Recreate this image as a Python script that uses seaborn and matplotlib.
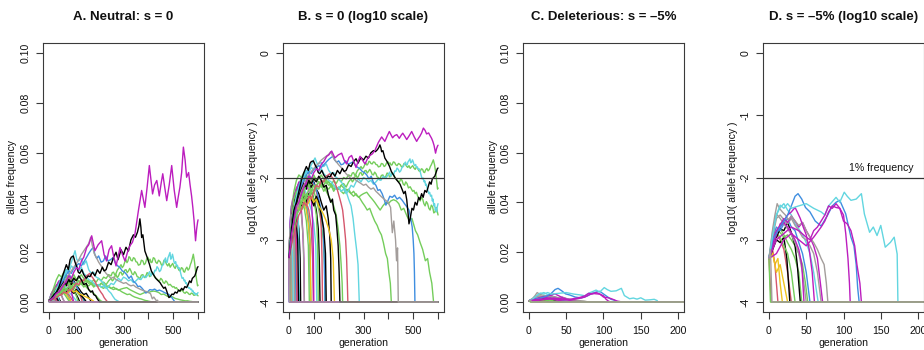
import numpy as np
import pandas as pd
import matplotlib
matplotlib.use("Agg")
import matplotlib.pyplot as plt
import seaborn as sns

sns.set_theme(style="white")
plt.rcParams["font.family"] = ["Liberation Sans", "DejaVu Sans"]

# ---------------- text ----------------
titles = ["A. Neutral: s = 0", "B. s = 0 (log10 scale)",
          "C. Deleterious: s = \u20135%", "D. s = \u20135% (log10 scale)"]
lin_yticks = [0.0, 0.02, 0.04, 0.06, 0.08, 0.10]
lin_ylabels = ["0.00", "0.02", "0.04", "0.06", "0.08", "0.10"]
log_yticks = [0, -1, -2, -3, -4]
log_ylabels = ["0", "-1", "-2", "-3", "-4"]
neu_xticks = [0, 100, 200, 300, 400, 500, 600]
neu_xlabels = ["0", "100", "", "300", "", "500", ""]
del_xticks = [0, 50, 100, 150, 200]
del_xlabels = ["0", "50", "100", "150", "200"]
ref_level = -2
ref_text = "1% frequency"

# ---------------- neutral trajectories (generation, allele frequency) ----------------
n_s01 = [(0, .0005), (3, .001), (6, .0005), (8, 0), (600, 0)]
n_s02 = [(0, .0005), (4, .0015), (8, .001), (12, .0005), (14, 0), (600, 0)]
n_s03 = [(0, .0005), (5, .0015), (10, .003), (15, .002), (20, .001), (23, 0), (600, 0)]
n_s04 = [(0, .0005), (5, .002), (10, .0035), (15, .003), (20, .002), (25, .001), (28, 0), (600, 0)]
n_s05 = [(0, .0005), (5, .0012), (10, .0008), (12, 0), (600, 0)]
n_s06 = [(0, .0005), (10, .002), (20, .004), (30, .003), (40, .0015), (45, .0005), (47, 0), (600, 0)]
n_s07 = [(0, .0005), (10, .003), (20, .005), (30, .004), (38, .002), (42, 0), (600, 0)]
n_s08 = [(0, .0005), (5, .001), (10, .0005), (13, 0), (600, 0)]
n_s09 = [(0, .0005), (5, .002), (10, .0035), (15, .0045), (20, .003), (25, .0025), (30, .001), (33, 0), (600, 0)]
n_s10 = [(0, .0005), (10, .0025), (20, .005), (30, .007), (40, .006), (50, .008), (60, .006), (70, .004),
         (80, .002), (85, .001), (88, 0), (600, 0)]
n_s11 = [(0, .0005), (10, .002), (20, .003), (30, .0045), (40, .006), (50, .005), (60, .0065), (70, .004),
         (80, .003), (90, .0015), (95, .0005), (98, 0), (600, 0)]
n_s12 = [(0, .0005), (10, .002), (20, .0045), (30, .006), (40, .008), (50, .0065), (60, .009), (70, .011),
         (80, .008), (90, .006), (100, .0045), (110, .003), (118, .0015), (122, .0005), (125, 0), (600, 0)]
n_s13 = [(0, .0005), (10, .002), (20, .004), (30, .006), (40, .0055), (50, .007), (60, .005), (70, .0035),
         (78, .002), (84, .0008), (87, 0), (600, 0)]
n_s14 = [(0, .0005), (10, .0015), (20, .003), (30, .0025), (40, .0035), (50, .003), (60, .004), (70, .003),
         (78, .0018), (85, .0008), (88, 0), (600, 0)]
n_s15 = [(0, .0005), (10, .0025), (20, .004), (30, .0055), (40, .007), (50, .0085), (60, .007), (70, .0055),
         (80, .004), (90, .003), (100, .0018), (108, .0008), (112, 0), (600, 0)]
n_s16 = [(0, .0005), (10, .002), (20, .0035), (30, .0025), (40, .004), (50, .003), (55, .0015), (60, .0005),
         (62, 0), (600, 0)]
n_s17 = [(0, .0005), (10, .003), (20, .006), (30, .009), (40, .011), (50, .01), (60, .012), (70, .0105),
         (80, .009), (90, .0075), (100, .006), (110, .0045), (120, .003), (130, .002), (138, .001),
         (143, .0004), (146, 0), (600, 0)]
n_s18 = [(0, .0005), (10, .0015), (20, .003), (30, .0045), (40, .004), (50, .006), (60, .0075), (70, .0065),
         (80, .0085), (90, .007), (100, .0085), (110, .0065), (120, .0055), (130, .004), (140, .003),
         (150, .0035), (158, .0022), (164, .0012), (168, .0005), (170, 0), (600, 0)]
n_s19 = [(0, .0005), (10, .0015), (20, .003), (30, .0045), (40, .0035), (50, .0025), (58, .001), (62, 0), (600, 0)]
n_s20 = [(0, .0005), (10, .0015), (20, .0025), (30, .004), (40, .0055), (50, .0065), (60, .008), (70, .0075),
         (80, .0095), (90, .009), (100, .0075), (110, .006), (118, .0045), (125, .003), (130, .0015),
         (133, .0005), (135, 0), (600, 0)]
n_s21 = [(0, .0005), (10, .0025), (20, .004), (30, .0065), (40, .008), (50, .0095), (60, .011), (70, .0095),
         (80, .0075), (90, .006), (100, .0045), (110, .0025), (115, .001), (118, 0), (600, 0)]
n_s22 = [(0, .0005), (10, .0025), (20, .005), (30, .0065), (40, .0085), (50, .0075), (60, .0095), (70, .008),
         (80, .006), (90, .0045), (95, .002), (98, .0007), (100, 0), (600, 0)]
n_s23 = [(0, .0005), (10, .002), (20, .0035), (30, .005), (40, .0075), (50, .0095), (60, .011), (70, .013),
         (80, .0115), (90, .0095), (100, .008), (110, .0065), (120, .0045), (130, .003), (138, .0015),
         (142, .0005), (145, 0), (600, 0)]
n_s24 = [(0, .0005), (10, .002), (20, .004), (30, .0055), (40, .0045), (50, .0035), (60, .005), (70, .004),
         (80, .0055), (90, .0045), (100, .0035), (110, .005), (120, .004), (130, .0025), (140, .0015),
         (147, .0006), (150, 0), (600, 0)]
n_s25 = [(0, .0005), (10, .0012), (20, .0025), (30, .0035), (40, .003), (50, .004), (60, .0045), (70, .0035),
         (80, .004), (90, .005), (100, .004), (110, .0045), (120, .0035), (130, .003), (140, .0025),
         (150, .002), (160, .0015), (170, .001), (178, .0005), (183, 0), (600, 0)]
n_s26 = [(0, .0005), (5, .0015), (10, .001), (15, .0005), (17, 0), (600, 0)]
n_s27 = [(0, .0005), (10, .002), (20, .0045), (30, .006), (40, .0045), (50, .003), (60, .0035), (70, .002),
         (78, .0008), (82, 0), (600, 0)]
n_s28 = [(0, .0005), (5, .0012), (10, .002), (15, .0015), (20, .0022), (25, .0012), (30, .0005), (32, 0), (600, 0)]
n_s29 = [(0, .0005), (5, .0015), (10, .0025), (15, .0018), (20, .0008), (23, 0), (600, 0)]
n_s30 = [(0, .0005), (5, .001), (10, .0015), (15, .0025), (20, .002), (25, .0028), (30, .0018), (35, .001),
         (39, 0), (600, 0)]
n_s31 = [(0, .0005), (2, 0), (600, 0)]
n_s32 = [(0, .0005), (3, .001), (5, 0), (600, 0)]
n_s33 = [(0, .0005), (1, 0), (600, 0)]
n_s34 = [(0, .0005), (2, .001), (4, 0), (600, 0)]
n_s35 = [(0, .0005), (2, 0), (600, 0)]

n_green3 = [(0, .0005), (10, .001), (20, .0015), (30, .0025), (40, .003), (50, .004), (60, .0045), (70, .0055),
            (80, .005), (90, .0065), (100, .006), (110, .0075), (120, .0085), (130, .0075), (140, .009),
            (150, .008), (160, .0085), (170, .007), (180, .0075), (190, .0065), (200, .007), (210, .006),
            (220, .0055), (230, .0065), (240, .006), (250, .0055), (260, .005), (270, .0055), (280, .0048),
            (290, .0052), (300, .0055), (313, .0058), (325, .005), (335, .0045), (345, .004), (355, .0035),
            (367, .003), (378, .0035), (390, .004), (400, .0038), (410, .0042), (421, .0044), (432, .0042),
            (442, .0038), (452, .003), (462, .0032), (475, .0024), (485, .002), (495, .0022), (509, .0014),
            (518, .0012), (528, .0009), (538, .0007), (549, .00046), (558, .0005), (566, .0003),
            (575, .0002), (582, 0), (600, 0)]
n_green4 = [(0, .0005), (10, .0012), (20, .002), (30, .0035), (40, .005), (50, .0045), (60, .006), (70, .0075),
            (80, .007), (90, .0085), (100, .01), (110, .009), (120, .0095), (130, .011), (140, .0095),
            (150, .0085), (160, .0075), (170, .008), (180, .0065), (190, .007), (200, .0065), (210, .0075),
            (220, .0068), (230, .0062), (240, .0065), (250, .0055), (260, .006), (270, .0052), (283, .0048),
            (295, .004), (305, .0035), (315, .003), (325, .0032), (335, .0025), (345, .002), (355, .0017),
            (363, .0014), (372, .0012), (380, .0009), (389, .0006), (396, .0005), (402, .0003),
            (408, .0002), (412, 0), (600, 0)]
n_green5 = [(0, .0005), (10, .0015), (20, .003), (30, .005), (40, .0065), (50, .008), (60, .0095), (70, .0085),
            (80, .01), (90, .0095), (100, .011), (110, .009), (120, .0085), (130, .007), (140, .0075),
            (150, .006), (160, .005), (170, .0042), (180, .0035), (190, .0025), (198, .0015), (205, .0008),
            (210, .0004), (214, .0002), (216, 0), (600, 0)]
n_green2 = [(0, .0005), (10, .0012), (20, .002), (30, .003), (40, .0045), (50, .004), (60, .0055), (70, .005),
            (80, .0065), (90, .006), (100, .0075), (110, .007), (120, .0085), (130, .0075), (140, .006),
            (150, .007), (160, .0065), (170, .0075), (180, .006), (190, .007), (200, .0065), (210, .0075),
            (220, .008), (230, .007), (240, .0085),
            (250, .0095), (255, .0085), (260, .009), (265, .0102), (270, .011), (275, .0098), (280, .0105),
            (285, .0118), (290, .012), (295, .0108), (300, .0115), (305, .0128), (310, .013), (315, .0118),
            (320, .0125), (325, .0135), (330, .0125), (335, .0112), (340, .011), (345, .0122), (350, .0115),
            (355, .0102), (360, .01), (364, .0092), (367, .0097), (372, .0108), (378, .011), (384, .0098),
            (390, .0105), (395, .0118), (400, .0115), (405, .0102), (410, .0105), (415, .0118), (421, .011),
            (427, .0098), (432, .0095), (438, .0088), (445, .0085), (450, .0095), (455, .009), (460, .0078),
            (465, .0075), (470, .0085), (475, .008), (481, .0068), (488, .0071), (493, .0065), (498, .006),
            (503, .0062), (508, .0055), (513, .0058), (518, .005), (523, .0046), (528, .0042), (533, .0048),
            (538, .0045), (543, .0038), (548, .0035), (553, .0041), (558, .0038), (563, .0032), (568, .003),
            (573, .0036), (578, .0034), (583, .0027), (588, .0028), (592, .0033), (595, .0031), (600, .0025)]
n_green1 = [(0, .0005), (10, .001), (20, .0018), (30, .0025), (40, .003), (50, .004), (60, .0035), (70, .005),
            (80, .0045), (90, .006), (100, .0055), (110, .007), (120, .0065), (130, .008), (140, .0075),
            (150, .009), (160, .0085), (170, .0075), (180, .009), (190, .008), (200, .0095), (210, .0085),
            (220, .01), (230, .0095), (240, .011),
            (250, .0105), (255, .0118), (260, .012), (265, .0108), (270, .0115), (275, .0128), (280, .0135),
            (285, .0142), (290, .015), (295, .0138), (300, .0145), (305, .016), (310, .017), (314, .0158),
            (318, .0165), (322, .0182), (326, .0179), (330, .0168), (335, .0165), (340, .0178), (345, .0175),
            (350, .0162), (355, .016), (360, .0148), (367, .0151), (372, .0168), (378, .0165), (383, .015),
            (388, .0155), (393, .0172), (398, .018), (403, .0165), (407, .0172), (411, .0158), (415, .016),
            (420, .0178), (425, .0175), (430, .016), (435, .0155), (441, .0168), (448, .0161), (453, .0148),
            (458, .015), (463, .0168), (468, .0165), (473, .0152), (478, .0145), (483, .0155), (488, .014),
            (493, .0148), (498, .0155), (503, .0142), (508, .0135), (513, .0148), (518, .014), (523, .0128),
            (528, .0125), (533, .0138), (538, .0135), (542, .0122), (546, .012), (550, .0132), (555, .014),
            (560, .0128), (565, .0135), (569, .015), (573, .016), (577, .0175), (581, .0192), (586, .016),
            (590, .0125), (594, .009), (598, .0065), (600, .0068)]
n_cyan2 = [(0, .0005), (10, .0015), (20, .003), (30, .0045), (40, .006), (50, .008), (60, .01), (70, .012),
           (80, .0135), (90, .016), (100, .019), (105, .0206), (112, .017), (120, .0165), (130, .0175),
           (140, .015), (150, .0165), (160, .013), (170, .0115), (180, .012), (190, .01), (200, .0095),
           (210, .0085), (220, .0075), (230, .006), (240, .0045), (250, .0035), (258, .0022), (265, .0012),
           (272, .0007), (278, .0004), (283, 0), (600, 0)]
n_cyan1 = [(0, .0005), (10, .0015), (20, .003), (30, .005), (40, .007), (50, .009), (60, .0105), (70, .013),
           (80, .012), (90, .0145), (100, .0135), (110, .015), (120, .0125), (130, .014), (140, .0115),
           (150, .0105), (160, .009), (170, .0085), (180, .0075), (190, .0065), (200, .007), (210, .006),
           (220, .0065), (230, .0055), (240, .0062), (250, .0075), (260, .007), (270, .0085), (280, .0095),
           (290, .0085), (300, .01), (310, .0095), (320, .0085), (330, .009), (340, .0078), (350, .0085),
           (360, .0095), (370, .009), (380, .0105), (390, .0098),
           (400, .0112), (405, .0122), (410, .0105), (415, .0115), (421, .011), (426, .0128), (430, .0125),
           (435, .0142), (440, .0135), (445, .0122), (450, .0128), (455, .0145), (461, .0151), (465, .0168),
           (469, .0177), (473, .0158), (476, .016), (479, .0178), (482, .0185), (487, .0199), (490, .0172),
           (493, .0175), (497, .0192), (500, .018), (503, .0162), (506, .0155), (510, .0162), (513, .0145),
           (517, .0148), (520, .0135), (524, .0138), (528, .0125), (532, .0108), (536, .0095), (540, .0098),
           (544, .0085), (547, .0088), (550, .0075), (553, .0078), (556, .0068), (560, .006), (563, .0055),
           (566, .0058), (570, .005), (574, .0052), (577, .0042), (580, .0045), (583, .0035), (586, .0038),
           (589, .003), (592, .0032), (594, .0028), (597, .0034), (600, .0038)]
n_blue1 = [(0, .0005), (10, .0012), (20, .0025), (30, .004), (40, .006), (50, .0075), (60, .009), (70, .011),
           (80, .0125), (90, .0115), (100, .0135), (110, .0145), (120, .0155), (130, .0145), (140, .016),
           (151, .0179), (160, .0195), (170, .021), (178, .0219), (185, .019), (192, .0175), (200, .0185),
           (210, .016), (219, .0165), (228, .0185), (238, .0165), (248, .017), (259, .0179), (268, .0155),
           (277, .0145), (286, .0138), (295, .0125), (304, .012), (313, .011), (322, .0095), (331, .0105),
           (340, .0083), (350, .0075), (358, .0062), (366, .0064), (375, .0055), (383, .0045), (390, .0036),
           (398, .0042), (406, .005), (416, .0048), (425, .0052), (435, .0045), (445, .0048), (456, .0043),
           (465, .0038), (474, .0034), (483, .003), (490, .0022), (496, .0016), (500, .001), (503, .0006),
           (505, .0003), (507, 0), (600, 0)]
n_red1 = [(0, .0005), (10, .0008), (20, .0012), (30, .0018), (40, .0025), (50, .003), (60, .004), (70, .0035),
          (80, .005), (90, .0045), (100, .006), (110, .0075), (120, .007), (130, .009), (140, .0085),
          (150, .0105), (158, .011), (164, .0115), (170, .0105), (178, .0095), (186, .008), (194, .0065),
          (202, .005), (210, .0038), (216, .003), (222, .0018), (228, .001), (232, .0005), (235, .0002),
          (237, 0), (600, 0)]
n_black2 = [(0, .0005), (10, .001), (20, .002), (30, .0035), (40, .005), (50, .0065), (60, .008), (70, .007),
            (80, .009), (90, .008), (100, .0095), (110, .0085), (120, .0105), (130, .009), (140, .007),
            (150, .0075), (160, .005), (168, .004), (175, .0045), (180, .003), (188, .0025), (193, .0015),
            (198, .0008), (202, .0003), (205, 0), (600, 0)]
n_gray1 = [(0, .0005), (10, .001), (20, .002), (30, .003), (40, .0045), (50, .006), (60, .0075), (70, .009),
           (80, .011), (90, .0125), (100, .014), (110, .0155), (120, .017), (130, .019), (140, .0205),
           (150, .022), (160, .0235), (168, .026), (175, .0225), (182, .0195), (190, .018), (200, .016),
           (210, .0145), (220, .013), (230, .0115), (240, .0105), (250, .0095), (260, .01), (270, .009),
           (280, .0085), (290, .008), (300, .0075), (310, .0078), (320, .007), (330, .0065), (340, .0068),
           (350, .006), (360, .0055), (370, .005), (380, .0046), (389, .0043), (399, .004), (409, .0033),
           (416, .0013), (422, .002), (429, .001), (433, .00046), (437, .00074), (440, 0), (600, 0)]
n_black1 = [(0, .0005), (10, .0015), (20, .003), (30, .004), (40, .006), (50, .009), (60, .012), (70, .015),
            (78, .013), (85, .017), (90, .018), (98, .0185), (105, .016), (111, .0144), (118, .012),
            (124, .0115), (132, .013), (140, .011), (150, .0095), (158, .0105), (165, .0102), (175, .012),
            (185, .0105), (195, .013), (205, .0115), (215, .014), (222, .0125), (230, .013), (240, .016),
            (250, .015), (260, .018), (270, .02), (278, .017), (283, .0186), (290, .021), (300, .019),
            (310, .022), (320, .0205), (330, .025), (340, .027), (348, .026), (356, .028), (362, .0305),
            (366, .0334), (370, .030), (373, .0259), (378, .027), (386, .0205), (395, .018), (405, .015),
            (412, .0125), (420, .0111), (430, .0095), (440, .0085), (447, .0078), (455, .0065), (462, .0055),
            (468, .006), (474, .0044), (480, .0025), (483, .0018), (488, .0022), (495, .0032), (501, .003),
            (508, .004), (515, .0036), (522, .0048), (527, .0044), (534, .0055), (540, .0048), (547, .0062),
            (554, .0058), (560, .007), (566, .0085), (572, .0078), (577, .0095), (581, .0099), (587, .0105),
            (592, .012), (597, .0138), (600, .0142)]
n_magenta1 = [(0, .0005), (10, .0012), (20, .002), (30, .0035), (40, .004), (50, .0055), (60, .007), (70, .0085),
              (80, .0105), (90, .0095), (100, .012), (111, .0138), (120, .013), (131, .0165), (140, .018),
              (152, .0219), (160, .023), (172, .0266), (185, .0206), (198, .023), (212, .0246), (222, .019),
              (232, .0165), (242, .021), (252, .0226), (261, .018), (270, .0145), (278, .018), (286, .0219),
              (296, .019), (306, .0165), (316, .02), (326, .0226), (336, .024), (346, .0273), (360, .0367),
              (373, .0448), (386, .038), (395, .046), (404, .0548), (417, .0434), (425, .047), (434, .0488),
              (444, .0426), (452, .048), (458, .0515), (466, .046), (474, .0407), (484, .047), (494, .0548),
              (504, .045), (514, .038), (520, .042), (527, .0461), (534, .052), (541, .0622), (548, .057),
              (554, .0501), (562, .052), (568, .047), (574, .0426), (579, .038), (584, .0327), (590, .0246),
              (594, .029), (598, .032), (600, .033)]
n_s36 = [(0, .0005), (2, 0), (600, 0)]

neutral_paths = [n_s01, n_s02, n_s03, n_s04, n_s05, n_s06, n_s07, n_s08, n_s09, n_s10, n_s11, n_s12,
                 n_s13, n_s14, n_s15, n_s16, n_s17, n_s18, n_s19, n_s20, n_s21, n_s22, n_s23, n_s24,
                 n_s25, n_s26, n_s27, n_s28, n_s29, n_s30, n_s31, n_s32, n_s33, n_s34, n_s35,
                 n_green3, n_green4, n_green5, n_green2, n_green1, n_cyan2, n_cyan1, n_blue1, n_red1,
                 n_black2, n_gray1, n_black1, n_magenta1, n_s36]
neutral_colors = ["magenta", "red", "green", "blue", "yellow", "black", "cyan", "gray", "magenta", "green",
                  "red", "black", "blue", "yellow", "cyan", "magenta", "green", "black", "gray", "red",
                  "green", "magenta", "blue", "black", "yellow", "cyan", "green", "red", "gray", "black",
                  "red", "green", "blue", "gray", "magenta",
                  "green", "green", "green", "green", "green", "cyan", "cyan", "blue", "red",
                  "black", "gray", "black", "magenta", "gray"]

# ---------------- deleterious trajectories (generation, allele frequency) ----------------
d_cyan1 = [(0, .0005), (5, .0012), (10, .0025), (15, .0036), (20, .0032), (25, .0038), (30, .0032), (40, .0035),
           (50, .0038), (60, .0032), (70, .0028), (75, .0025), (80, .0035), (90, .0048), (95, .004),
           (101, .0058), (105, .005), (110, .0043), (117, .0045), (124, .0055), (128, .0026), (135, .00132),
           (140, .0016), (145, .00117), (150, .0017), (156, .00076), (163, .00091), (168, .0011),
           (172, .00059), (173, 0), (600, 0)]
d_blue1 = [(0, .0005), (5, .001), (10, .00126), (15, .0016), (20, .002), (25, .0025), (30, .0035), (35, .005),
           (39, .0055), (44, .0045), (49, .0033), (55, .0028), (62, .002), (70, .00166), (78, .0024),
           (85, .0035), (90, .004), (95, .0043), (103, .0026), (110, .0011), (114, .0008), (117, .0004),
           (119, .00017), (121, 0), (600, 0)]
d_mag1 = [(0, .0005), (10, .001), (20, .00126), (30, .0016), (40, .0014), (50, .0011), (55, .001), (60, .0014),
          (65, .0016), (70, .002), (75, .0025), (80, .0035), (85, .0032), (90, .0038), (95, .0032), (100, .0025),
          (103, .00126), (106, .0005), (108, .0002), (109, 0), (600, 0)]
d_mag2 = [(0, .0005), (10, .0006), (20, .001), (30, .00126), (40, .001), (50, .0008), (60, .0011), (70, .0016),
          (75, .002), (80, .0028), (85, .0035), (90, .0033), (95, .0032), (100, .002), (105, .0018), (110, .0014),
          (115, .0008), (118, .0004), (122, .0002), (124, 0), (600, 0)]
d_mag3 = [(0, .0005), (5, .0008), (10, .0012), (15, .0018), (20, .002), (25, .0025), (30, .0028), (35, .0033),
          (38, .0028), (42, .0022), (46, .0016), (50, .0012), (54, .0007), (58, .0003), (61, 0), (600, 0)]
d_mag4 = [(0, .0005), (5, .001), (10, .0014), (15, .0017), (20, .0022), (25, .0019), (30, .0024), (35, .002),
          (40, .0016), (45, .0019), (50, .0014), (55, .0011), (60, .0008), (65, .0005), (69, .0002), (72, 0),
          (600, 0)]
d_gray1 = [(0, .0005), (5, .0015), (8, .0025), (11, .0038), (14, .0032), (18, .0028), (22, .0025), (26, .0021),
           (30, .0024), (35, .002), (40, .0017), (45, .0019), (50, .0014), (55, .0011), (60, .0009), (65, .0007),
           (70, .0005), (74, .0004), (77, .0002), (79, 0), (600, 0)]
d_gray2 = [(0, .0005), (5, .0012), (10, .0026), (15, .0022), (20, .0018), (25, .0015), (30, .0012), (35, .0009),
           (40, .0006), (45, .0003), (50, 0), (600, 0)]
d_green1 = [(0, .0005), (5, .001), (10, .0014), (15, .0013), (20, .0011), (25, .0012), (30, .001), (35, .0008),
            (40, .0006), (45, .0004), (49, .0002), (52, 0), (600, 0)]
d_green2 = [(0, .0005), (5, .0008), (10, .0012), (15, .0015), (20, .0012), (25, .0009), (30, .0007), (35, .0005),
            (40, .0003), (44, .0001), (45, 0), (600, 0)]
d_black1 = [(0, .0005), (5, .0009), (10, .0011), (15, .0015), (20, .0014), (25, .0019), (30, .0013), (35, .0008),
            (38, .0004), (42, 0), (600, 0)]
d_yellow1 = [(0, .0005), (4, .0007), (8, .0004), (12, .0005), (15, .0002), (18, 0), (600, 0)]
d_yellow2 = [(0, .0005), (5, .0006), (10, .0003), (15, .0004), (20, .0002), (25, 0), (600, 0)]
d_red1 = [(0, .0005), (4, .0008), (8, .0004), (12, 0), (600, 0)]
d_red2 = [(0, .0005), (5, .0009), (10, .0012), (15, .001), (20, .0007), (25, .0003), (30, 0), (600, 0)]
d_blue2 = [(0, .0005), (5, .0011), (10, .0016), (15, .0014), (20, .0018), (25, .0022), (30, .0016), (35, .0014),
           (40, .0009), (45, .0006), (50, .0003), (55, 0), (600, 0)]
d_cyan2 = [(0, .0005), (5, .0014), (10, .0025), (15, .0033), (20, .0038), (25, .003), (30, .0025), (35, .0018),
           (40, .0015), (45, .0012), (50, .0009), (55, .0006), (60, .0003), (66, 0), (600, 0)]
d_green3 = [(0, .0005), (5, .0009), (10, .0013), (15, .0011), (20, .0008), (25, .0006), (30, .0003), (35, 0),
            (600, 0)]
d_black2 = [(0, .0005), (5, .0007), (10, .001), (15, .0009), (20, .0011), (24, .0005), (28, 0), (600, 0)]
d_gray3 = [(0, .0005), (5, .0011), (10, .0022), (15, .0025), (20, .0021), (25, .0018), (30, .0022), (35, .0017),
           (40, .0014), (45, .0011), (50, .001), (55, .0008), (60, .0006), (65, .0003), (70, 0), (600, 0)]
d_mag5 = [(0, .0005), (5, .0009), (10, .0013), (15, .0016), (20, .0019), (25, .0016), (30, .0013), (35, .001),
          (40, .0007), (44, .0004), (47, 0), (600, 0)]
d_red3 = [(0, .0005), (3, 0), (600, 0)]
d_green4 = [(0, .0005), (2, 0), (600, 0)]
d_gray4 = [(0, .0005), (2, .0007), (4, 0), (600, 0)]

deleterious_paths = [d_yellow1, d_red1, d_green2, d_yellow2, d_red2, d_black2, d_green3, d_green1, d_black1,
                     d_blue2, d_gray2, d_cyan2, d_gray3, d_mag5, d_mag4, d_gray1, d_mag3, d_blue1, d_cyan1,
                     d_mag1, d_mag2, d_red3, d_green4, d_gray4]
deleterious_colors = ["yellow", "red", "green", "yellow", "red", "black", "green", "green", "black",
                      "blue", "gray", "cyan", "gray", "magenta", "magenta", "gray", "magenta", "blue", "cyan",
                      "magenta", "magenta", "red", "green", "gray"]

PALETTE = {"black": "#000000", "red": "#D5566C", "green": "#74CD5B", "blue": "#3F8EE0",
           "cyan": "#62D6E0", "magenta": "#BC1DBE", "yellow": "#F0C31E", "gray": "#A39D9B"}


def build_df(paths, colors):
    rows = []
    for i, (pts, c) in enumerate(zip(paths, colors)):
        for g, f in pts:
            rows.append((i, g, f, c))
    df = pd.DataFrame(rows, columns=["traj", "gen", "freq", "color"])
    df["logf"] = np.log10(df["freq"].clip(lower=1e-4))
    return df


neu_df = build_df(neutral_paths, neutral_colors)
del_df = build_df(deleterious_paths, deleterious_colors)

fig = plt.figure(figsize=(9.24, 3.5), dpi=100)
W, H = 924.0, 350.0
lefts = [43, 283, 523, 763]
box_w, box_top, box_bot = 161, 43, 312
axes = [fig.add_axes([l / W, (H - box_bot) / H, box_w / W, (box_bot - box_top) / H]) for l in lefts]

specs = [
    (neu_df, "freq", (-24, 624), (-0.004, 0.104), neu_xticks, neu_xlabels, lin_yticks, lin_ylabels,
     "allele frequency"),
    (neu_df, "logf", (-24, 624), (-4.16, 0.16), neu_xticks, neu_xlabels, log_yticks, log_ylabels,
     "log10( allele frequency )"),
    (del_df, "freq", (-8, 208), (-0.004, 0.104), del_xticks, del_xlabels, lin_yticks, lin_ylabels,
     "allele frequency"),
    (del_df, "logf", (-8, 208), (-4.16, 0.16), del_xticks, del_xlabels, log_yticks, log_ylabels,
     "log10( allele frequency )"),
]

edge = "#3a3a3a"
for k, (ax, spec) in enumerate(zip(axes, specs)):
    df, ycol, xl, yl, xt, xtl, yt, ytl, ylab = spec
    pal = {i: PALETTE[c] for i, c in zip(df["traj"], df["color"])}
    sns.lineplot(data=df, x="gen", y=ycol, hue="traj", palette=pal, estimator=None, sort=False,
                 legend=False, lw=1.0, ax=ax)
    ax.set_xlim(*xl)
    ax.set_ylim(*yl)
    ax.set_xticks(xt)
    ax.set_xticklabels(xtl)
    ax.set_yticks(yt)
    ax.set_yticklabels(ytl, rotation=90, va="center")
    ax.tick_params(axis="both", which="both", direction="out", length=4.7, width=0.8, color=edge,
                   labelsize=7.6, labelcolor="#111111", left=True, bottom=True)
    ax.tick_params(axis="x", pad=5.5)
    ax.tick_params(axis="y", pad=4.5)
    for s in ax.spines.values():
        s.set_color(edge)
        s.set_linewidth(0.8)
        s.set_visible(True)
    ax.set_xlabel("generation", fontsize=7.6, color="#111111")
    ax.set_ylabel(ylab, fontsize=7.6, color="#111111")
    ax.xaxis.label.set_va("center")
    ax.yaxis.label.set_va("center")
    ax.xaxis.set_label_coords(0.5, (box_bot - 342.5) / (box_bot - box_top))
    ax.yaxis.set_label_coords((12.5 - 43) / box_w, 0.5)
    ax.text(0.5, 1 + 26.0 / (box_bot - box_top), titles[k], transform=ax.transAxes, ha="center",
            va="center", fontsize=9.5, fontweight="bold", color="#111111")
    ax.set_facecolor("white")
    if ycol == "logf":
        ax.axhline(ref_level, color="#333333", lw=0.9, zorder=5)

axes[3].annotate(ref_text, xy=(150, ref_level), xytext=(0, 4.5), textcoords="offset points",
                 ha="center", va="baseline", fontsize=7.6, color="#111111")

fig.savefig("out.png", dpi=100, facecolor="white")
